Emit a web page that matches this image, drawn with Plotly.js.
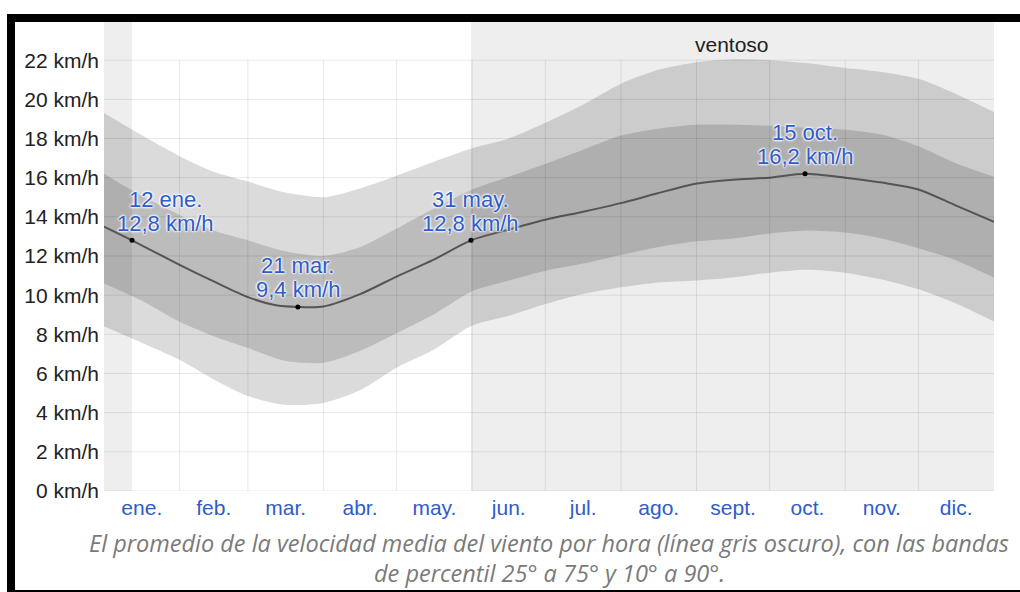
<!DOCTYPE html>
<html>
<head>
<meta charset="utf-8">
<script src="https://cdn.plot.ly/plotly-3.0.1.min.js"></script>
<style>
html,body{margin:0;padding:0;background:#fff;overflow:hidden;}
#chart{position:absolute;left:0;top:0;width:1020px;height:592px;}
#frame{position:absolute;left:7px;top:14px;width:1100px;height:578px;box-sizing:border-box;border-left:8px solid #000;border-top:8px solid #000;border-bottom:2px solid #000;pointer-events:none;}
</style>
</head>
<body>
<div id="chart"></div>
<div id="frame"></div>
<script>
// ---- data (day of year, Jan 1 start = 0, Dec 31 end = 365) ----
const monthNames = ['ene.','feb.','mar.','abr.','may.','jun.','jul.','ago.','sept.','oct.','nov.','dic.'];
const monthLengths = [31,28,31,30,31,30,31,31,30,31,30,31];
const yTickValues = [0,2,4,6,8,10,12,14,16,18,20,22];

const bandDays = [0,15,31,45,59,74,90,105,120,135,151,166,181,196,212,227,243,258,273,288,304,319,334,349,365];
const p10 = [8.4,7.6,6.7,5.7,4.85,4.4,4.5,5.15,6.3,7.2,8.45,8.95,9.55,10.05,10.4,10.65,10.75,10.9,11.15,11.3,11.15,10.8,10.3,9.6,8.65];
const p25 = [10.6,9.75,8.64,7.9,7.3,6.65,6.55,7.15,8.05,9.0,10.2,10.75,11.25,11.6,12.05,12.45,12.75,12.9,13.15,13.3,13.2,12.9,12.4,11.8,10.9];
const p75 = [16.2,15.1,14.1,13.3,12.8,12.25,12.0,12.45,13.4,14.4,15.4,16.05,16.7,17.4,18.15,18.5,18.7,18.7,18.65,18.55,18.45,18.2,17.6,16.75,16.05];
const p90 = [19.3,18.2,17.1,16.3,15.8,15.25,15.0,15.45,16.1,16.8,17.5,18.0,18.8,19.7,20.8,21.5,21.9,22.05,22.0,21.85,21.6,21.4,21.05,20.3,19.35];

const meanDays = [0,11.5,31,45,59,70,79.5,90,105,120,135,150.5,166,181,196,212,227,243,258,273,287.5,304,319,334,349,365];
const meanSpeed = [13.5,12.8,11.55,10.7,9.9,9.5,9.4,9.42,10.05,10.95,11.8,12.8,13.35,13.85,14.25,14.7,15.2,15.7,15.9,16.0,16.2,16.0,15.75,15.4,14.6,13.75];

const labelDays = [11.5,79.5,150.5,287.5];
const labelValues = [12.8,9.4,12.8,16.2];
const labelDates = ['12 ene.','21 mar.','31 may.','15 oct.'];
const labelTexts = ['12,8 km/h','9,4 km/h','12,8 km/h','16,2 km/h'];

const windyStart = 150.5;   // 31 may.
const windyEnd = 11.5;      // 12 ene.
const windyLabel = 'ventoso';
const caption1 = 'El promedio de la velocidad media del viento por hora (línea gris oscuro), con las bandas';
const caption2 = 'de percentil 25° a 75° y 10° a 90°.';

// ---- derived ----
const monthStarts = [];
let acc = 0;
monthLengths.forEach(l => { monthStarts.push(acc); acc += l; });
const yearLen = acc;
const monthMids = monthStarts.map((s,i) => s + monthLengths[i]/2);
const monthBoundaries = monthStarts.slice(1);

const blue = '#2f5cc9';
const band = 'rgba(0,0,0,0.14)';
const noLine = {width:0, shape:'spline', smoothing:0.7};

const traces = [
  {x: bandDays, y: p10, mode:'lines', line: noLine, hoverinfo:'skip', showlegend:false},
  {x: bandDays, y: p90, mode:'lines', line: noLine, fill:'tonexty', fillcolor: band, hoverinfo:'skip', showlegend:false},
  {x: bandDays, y: p25, mode:'lines', line: noLine, hoverinfo:'skip', showlegend:false},
  {x: bandDays, y: p75, mode:'lines', line: noLine, fill:'tonexty', fillcolor: band, hoverinfo:'skip', showlegend:false},
  {x: meanDays, y: meanSpeed, mode:'lines', line:{color:'#555555', width:2, shape:'spline', smoothing:0.8}, hoverinfo:'skip', showlegend:false},
  {x: labelDays, y: labelValues, mode:'markers', marker:{color:'#000', size:5}, hoverinfo:'skip', showlegend:false}
];

const gridColor = 'rgba(0,0,0,0.09)';
const shapes = [
  {type:'rect', xref:'x', yref:'paper', x0:0, x1:windyEnd, y0:0, y1:1, fillcolor:'rgba(0,0,0,0.065)', line:{width:0}, layer:'below'},
  {type:'rect', xref:'x', yref:'paper', x0:windyStart, x1:yearLen, y0:0, y1:1, fillcolor:'rgba(0,0,0,0.065)', line:{width:0}, layer:'below'}
];
const yTop = yTickValues[yTickValues.length-1];
monthBoundaries.forEach(d => shapes.push({type:'line', xref:'x', yref:'y', x0:d, x1:d, y0:0, y1:yTop, line:{color:gridColor, width:1}, layer:'above'}));
yTickValues.forEach(v => shapes.push({type:'line', xref:'x', yref:'y', x0:0, x1:yearLen, y0:v, y1:v, line:{color:gridColor, width:1}, layer:'above'}));

const halo = '0 0 2px #fff, 0 0 2px #fff, 0 0 3px #fff, 0 0 3px #fff';
const labelFont = {family:'Liberation Sans, Arial, sans-serif', size:22, color: blue, shadow: halo};
const labelXShift = [33,0,0,0];
const annotations = [];
labelDays.forEach((d,i) => {
  annotations.push({x:d, y:labelValues[i], xref:'x', yref:'y', text:labelDates[i], showarrow:false, xanchor:'center', yanchor:'middle', xshift:labelXShift[i], yshift:41, font:labelFont});
  annotations.push({x:d, y:labelValues[i], xref:'x', yref:'y', text:labelTexts[i], showarrow:false, xanchor:'center', yanchor:'middle', xshift:labelXShift[i], yshift:17, font:labelFont});
});
annotations.push({x:(windyStart+yearLen)/2, y:0.951, xref:'x', yref:'paper', text:windyLabel, showarrow:false, xanchor:'center', yanchor:'middle', font:{family:'Liberation Sans, Arial, sans-serif', size:21, color:'#222'}});
const capFont = {family:'"Open Sans", "Noto Sans", sans-serif', size:23.5, color:'#7a7a7a', style:'italic'};
annotations.push({x:0.5, y:0, xref:'paper', yref:'paper', text:'<i>'+caption1+'</i>', showarrow:false, xanchor:'center', yanchor:'middle', yshift:-52, font:capFont});
annotations.push({x:0.5, y:0, xref:'paper', yref:'paper', text:'<i>'+caption2+'</i>', showarrow:false, xanchor:'center', yanchor:'middle', yshift:-82, font:capFont});

const layout = {
  width:1020, height:592,
  margin:{l:104, r:26, t:21, b:101, autoexpand:false},
  paper_bgcolor:'#fff', plot_bgcolor:'#fff',
  showlegend:false,
  xaxis:{range:[0,yearLen], tickvals:monthMids, ticktext:monthNames, showgrid:false, zeroline:false, showline:false, ticks:'', ticklabelstandoff:2,
         tickfont:{family:'Liberation Sans, Arial, sans-serif', size:21, color: blue}, fixedrange:true},
  yaxis:{range:[0,24], tickvals:yTickValues, ticktext:yTickValues.map(v => v+' km/h'), showgrid:false, zeroline:false, showline:false, ticks:'', ticklabelstandoff:4,
         tickfont:{family:'Liberation Sans, Arial, sans-serif', size:21, color:'#222'}, fixedrange:true},
  shapes: shapes,
  annotations: annotations
};

Plotly.newPlot('chart', traces, layout, {displayModeBar:false, staticPlot:true});
</script>
</body>
</html>
